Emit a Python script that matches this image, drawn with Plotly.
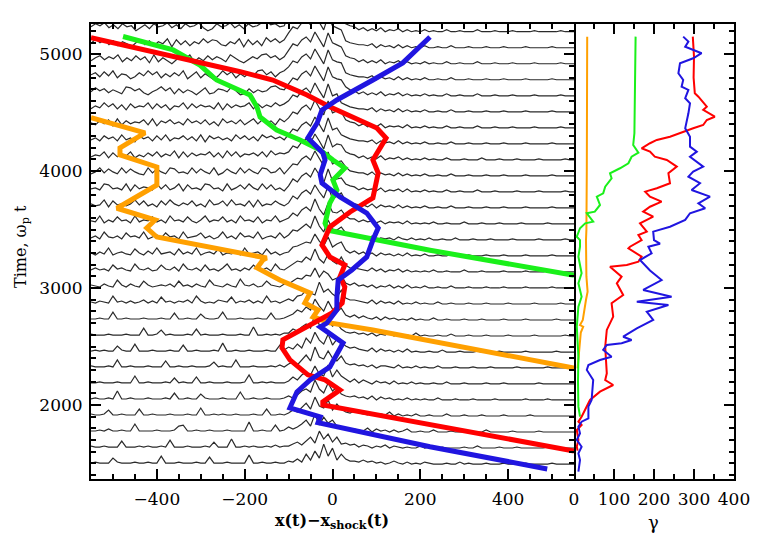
import numpy as np
import plotly.graph_objects as go

# ---------------- data ----------------
# baseline time of each stacked density profile (omega_p t)
trace_times = [1495, 1632, 1769, 1906, 2043, 2180, 2317, 2453, 2590, 2727,
               2864, 3001, 3138, 3275, 3412, 3549, 3686, 3823, 3960, 4097,
               4234, 4371, 4508, 4645, 4782, 4919, 5056, 5193]

# density profile heights (base-36 digits):
# downstream (-550..-110) | shock region (-100..40) | upstream (50..550)
profiles = [
    "121116211121121181112111211711121111911211211|3252a4d6k8g4a53|324231201310201021000100201000100010000100000100000",
    "211211171112121121811121112161119112121121312|24637b5h9e6b453|413202130210100201001000010020000100010000001000000",
    "112131121181111211126711211211121111a11211712|5358c6i7f9c6532|321403120201300100200010001000200000100000100000000",
    "211261121117112111211121181121211211121171121|3648d7ja8g6c743|532130214020102001000200010001000010000010000000000",
    "121121911211121112171121162111211181121121112|4259b8kb7h9d643|423140312010201010020001000100001000000100001000000",
    "112111211181121112161211711211121112911212111|3749c9ia8j7e852|514203120301020100100200010000100010000000100000000",
    "211121811211121117112112111261211811121112131|4638d7lb9ha7c53|423130221030102010020001000100010000010000001000000",
    "121211621181112111211711211121911211211121172|5384e9kc8i7d964|532140312020301001002000100010000100000100000010000",
    "211121112111811261211121712111211121191121213|3759c8mb9gad743|423130214020103010010020001000100001000001000000100",
    "112118112111211121171121162112811121112117112|46a8dale9jb8c53|524213031201020100200100010001000010000100000010000",
    "213218231312413172313241831214327132413182313|5389eb9mcfa7e64|432140312030102010020010001000100001000001000001000",
    "321421831421731232417231421832142193241273214|47a9dckbhe8ad53|523130213020301020010020001000100010000100000100000",
    "242317342183241273251832417231482314273241832|58bafcnd9ib8f74|432141302130201010200100020001000010000100001000000",
    "314281342173152823417242813427132418234172413|49acedmfaj9ce63|524130312020301020010020001000100010000100000100000",
    "241832417342813527341823472413824173428134272|5a9dgcoe8kbad74|433140212031020102001002000100010000100000100000100",
    "328142734182437241834273148243724183427143824|6b8ehdpf9lcbe85|524231302120301010200100020001000100001000001000000",
    "423817342483724173842537241834728342718243742|5c9fiengam9cf74|433140312030201020010020001000100010000100000100000",
    "342873428173542837248173428734182473842837241|6dagjfoh9nbde86|524231402130301020100200100020001000010000100000100",
    "248374283742183742873428374281374283742873482|7cbhkgpiaocef95|433140312030201020010020001000100010000100000100000",
    "354827364825374836492837465837294836574839576|8ecilhqjbpdgf86|524131402130201020100200010002000100010000100000100",
    "463857394628573849365847392857463958473968574|9fdjmirkcqeg975|433240312030201020010020001000100010000100000100000",
    "537482937465839275846395748362957483694857396|agekniskdrfhg86|524131402120301020100200100020001000100001000001000",
    "364958372846593847265938475639284756938475968|bhflojtlesgi975|433240312030201020010020001000100010000100000100000",
    "485736429857314695827364158237649512736459a76|cigmpkumftjhg96|524131402130201020100200100020001000100001000001000",
    "573849265137495826374915826304958263749a58379|djhnqlvngukih75|433240312030201020010020001000100010000100000100000",
    "368475926384719263047592638475296314759a6847|ekiormwohvljh86|524131402130201020100200100020001000100001000001000",
    "495837264158372649183726495873264918372a6958|fljpsnxpiwmki75|433240312030201020010020001000100010000100000100000",
    "586947385614738569473856941385694738569b7856|gmkqtoyqjxnlj86|524131402130201020100200100020001000100001000001000",
]
profile_scale = 8.5  # time units per profile unit

# particle trajectories (x - x_shock, time)
red_x = [-550, -380, -210, -136, -58, -10, 47, 101, 122, 110, 92, 104, 100, 92, 40, -6, -24,
         -6, 28, 17, 28, 22, -1, -74, -113, -115, -97, -56, -17, 17, -22, -22, 222, 550]
red_t = [5142, 5000, 4851, 4780, 4652, 4558, 4463, 4369, 4284, 4200, 4096, 3984, 3900, 3771,
         3651, 3523, 3369, 3266, 3198, 3095, 3010, 2873, 2787, 2642, 2557, 2489, 2386, 2258,
         2215, 2129, 2027, 2001, 1830, 1607]

blue_x = [222, 183, 160, 92, 10, -24, -35, -56, -22, -17, -28, -24, 17, 78, 104, 92, 78, 44,
          13, 10, 10, -13, -28, 24, 10, -6, -51, -81, -97, -28, -33, 222, 489]
blue_t = [5148, 5011, 4926, 4780, 4609, 4523, 4412, 4284, 4156, 4096, 3970, 3899, 3779, 3642,
          3514, 3411, 3266, 3155, 3069, 2924, 2813, 2700, 2668, 2531, 2429, 2326, 2215, 2112,
          1976, 1899, 1848, 1643, 1453]

green_x = [-477, -363, -302, -264, -188, -172, -165, -127, -74, -28, 1, 28, 1, 10, -6, -17,
           -10, 222, 550]
green_t = [5152, 5037, 4908, 4780, 4652, 4549, 4463, 4352, 4267, 4181, 4096, 4027, 3924,
           3839, 3728, 3555, 3495, 3324, 3110]

orange_x = [-550, -427, -484, -484, -400, -400, -491, -404, -423, -400, -150, -158, -172,
            -120, -51, -63, -33, -44, -6, 92, 550]
orange_t = [4457, 4327, 4199, 4140, 4036, 3882, 3683, 3583, 3514, 3437, 3257, 3242, 3173,
            3069, 2958, 2873, 2813, 2753, 2702, 2642, 2316]

# Lorentz factor gamma vs time
red_gt = [5151, 4980, 4800, 4666, 4637, 4552, 4524, 4466, 4438, 4395, 4367, 4324, 4295, 4267,
          4239, 4196, 4167, 4124, 4096, 4039, 3982, 3897, 3854, 3825, 3782, 3739, 3696, 3654,
          3611, 3554, 3483, 3454, 3411, 3354, 3340, 3269, 3226, 3198, 3183, 3098, 3041, 2941,
          2870, 2756, 2642, 2499, 2271, 2214, 2171, 2114, 2043, 1900, 1857, 1829, 1786, 1701,
          1643, 1610]
red_g = [297, 300, 299, 302, 311, 332, 323, 352, 332, 323, 298, 265, 240, 207,
         190, 169, 190, 202, 232, 257, 236, 240, 207, 178, 190, 219, 190, 173,
         198, 165, 182, 161, 169, 140, 136, 169, 161, 132, 90, 119, 107, 123,
         94, 98, 82, 78, 82, 78, 98, 65, 40, 19, 11, 19, 7, 11,
         7, 9]

blue_gt = [5151, 5108, 5065, 5009, 4966, 4923, 4837, 4780, 4723, 4695, 4624, 4581, 4495, 4367,
           4295, 4210, 4167, 4124, 4039, 3996, 3953, 3897, 3839, 3782, 3725, 3683, 3640, 3583,
           3525, 3483, 3411, 3380, 3354, 3298, 3240, 3150, 3069, 2984, 2926, 2884, 2855, 2798,
           2727, 2656, 2584, 2556, 2528, 2513, 2471, 2413, 2385, 2342, 2300, 2214, 2043, 1986,
           1886, 1857, 1815, 1758, 1701, 1643, 1587, 1530, 1430]
blue_g = [273, 286, 278, 319, 298, 265, 261, 273, 269, 286, 278, 290, 286, 278,
          290, 290, 307, 290, 323, 298, 286, 315, 294, 340, 311, 328, 290, 278,
          240, 198, 200, 215, 186, 194, 165, 190, 219, 173, 244, 157, 236, 182,
          198, 157, 123, 144, 119, 82, 73, 94, 65, 36, 32, 48, 44, 36,
          36, 19, 11, 15, 7, 19, 11, 15, 11]

green_gt = [5151, 4800, 4500, 4324, 4224, 4158, 4124, 4068, 4025, 3982, 3939, 3900, 3867, 3811,
            3782, 3711, 3654, 3640, 3568, 3554, 3512, 3440, 3411, 3354, 3269, 3127, 3041, 2926,
            2841, 2670, 2413, 2200, 1986, 1900]
green_g = [154, 153, 152, 151, 148, 161, 144, 136, 115, 90, 94, 84, 78, 73,
           57, 65, 52, 32, 48, 28, 15, 7, 15, 15, 11, 19, 11, 19,
           11, 7, 11, 10, 11, 15]

orange_gt = [5151, 4500, 4000, 3500, 3411, 3100, 3012, 2970, 2900, 2800, 2727, 2684, 2670,
             2620, 2556, 2450, 2314]
orange_g = [33, 33, 32, 31, 30, 31, 32, 34, 30, 26, 22, 15, 23, 17, 15, 12, 9]

x_ticks = [-400, -200, 0, 200, 400]
t_ticks = [2000, 3000, 4000, 5000]
g_ticks = [0, 100, 200, 300, 400]

# ---------------- figure ----------------
RED, BLUE, GREEN, ORANGE = "#ff0000", "#2015e0", "#1af01a", "#ffa000"
FONT = "DejaVu Serif"

xs, ys = [], []
for t0, prof in zip(trace_times, profiles):
    segs = prof.split("|")
    for seg, (x0, x1) in zip(segs, [(-550, -110), (-100, 40), (50, 550)]):
        vals = [int(c, 36) for c in seg]
        xs.extend(np.linspace(x0, x1, len(vals)).tolist())
        ys.extend([t0 + profile_scale * v for v in vals])
    xs.append(None)
    ys.append(None)

fig = go.Figure()
fig.add_trace(go.Scatter(x=xs, y=ys, mode="lines", line=dict(color="#2a2a2a", width=1.2),
                         hoverinfo="skip", xaxis="x", yaxis="y"))
for (xx, tt, col) in [(orange_x, orange_t, ORANGE), (green_x, green_t, GREEN),
                      (red_x, red_t, RED), (blue_x, blue_t, BLUE)]:
    fig.add_trace(go.Scatter(x=xx, y=tt, mode="lines", line=dict(color=col, width=5),
                             xaxis="x", yaxis="y"))
for (gg, tt, col) in [(orange_g, orange_gt, ORANGE), (green_g, green_gt, GREEN),
                      (red_g, red_gt, RED), (blue_g, blue_gt, BLUE)]:
    fig.add_trace(go.Scatter(x=gg, y=tt, mode="lines", line=dict(color=col, width=2),
                             xaxis="x2", yaxis="y2"))

W, H = 757, 542
xl, xm, xr = 91 / W, 574 / W, 734 / W
yb, yt = 1 - 479 / H, 1 - 24 / H
TRANGE = [1367, 5259]

common = dict(showline=True, linecolor="black", linewidth=2, ticks="inside",
              ticklen=10, tickwidth=1.5, tickcolor="black", showgrid=False,
              zeroline=False, automargin=False,
              tickfont=dict(family=FONT, size=17, color="black"))
minor = dict(ticks="inside", ticklen=5, tickwidth=1.5, tickcolor="black", showgrid=False)

fig.update_layout(
    width=W, height=H, autosize=False, margin=dict(l=0, r=0, t=0, b=0, pad=0),
    paper_bgcolor="white", plot_bgcolor="white", showlegend=False,
    xaxis=dict(domain=[xl, xm], range=[-550, 550], anchor="y", mirror="ticks",
               tickvals=x_ticks, ticktext=[str(v).replace("-", "\u2212") for v in x_ticks],
               minor=dict(dtick=50, **minor), ticklabelstandoff=4, **common),
    yaxis=dict(domain=[yb, yt], range=TRANGE, anchor="x", mirror="ticks",
               tickvals=t_ticks, minor=dict(dtick=100, **minor), ticklabelstandoff=3, **common),
    xaxis2=dict(domain=[xm, xr], range=[0, 400], anchor="y2", mirror="ticks",
                tickvals=g_ticks, minor=dict(dtick=50, **minor), ticklabelstandoff=4, **common),
    yaxis2=dict(domain=[yb, yt], range=TRANGE, anchor="x2", side="right", mirror=False,
                tickvals=t_ticks, showticklabels=False, minor=dict(dtick=100, **minor), **common),
)

fig.add_annotation(text="<b>x(t)\u2212x<sub>shock</sub>(t)</b>", xref="paper", yref="paper",
                   x=332 / W, y=1 - 521 / H, showarrow=False, xanchor="center", yanchor="middle",
                   font=dict(family=FONT, size=16, color="black"))
fig.add_annotation(text="Time, \u03c9<sub>p</sub> t", xref="paper", yref="paper",
                   x=22 / W, y=1 - 247 / H, showarrow=False, textangle=-90,
                   xanchor="center", yanchor="middle",
                   font=dict(family=FONT, size=16, color="black"))
fig.add_annotation(text="\u03b3", xref="paper", yref="paper",
                   x=653 / W, y=1 - 522 / H, showarrow=False, xanchor="center", yanchor="middle",
                   font=dict(family=FONT, size=18, color="black"))

post = ("document.documentElement.style.margin='0';document.body.style.margin='0';"
        "document.body.style.overflow='hidden';"
        "var d=document.getElementsByClassName('plotly-graph-div')[0];"
        "d.style.position='fixed';d.style.left='0px';d.style.top='0px';")
fig.write_html("out.html", config={"displayModeBar": False, "responsive": False},
               post_script=post)
